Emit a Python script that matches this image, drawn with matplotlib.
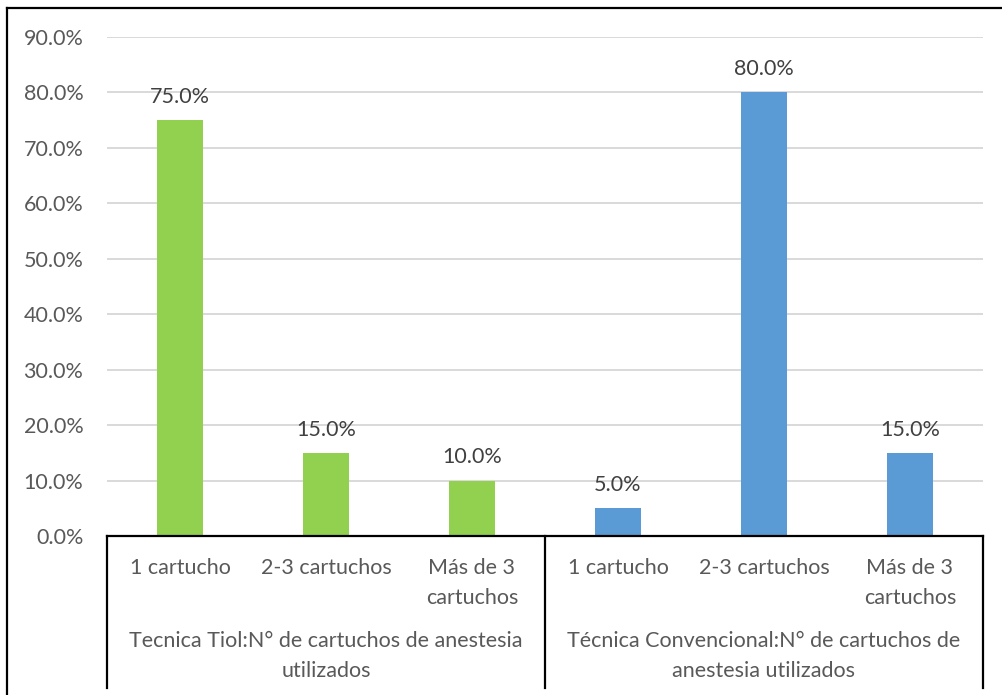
import matplotlib
matplotlib.use("Agg")
import matplotlib.pyplot as plt
from matplotlib.lines import Line2D
from matplotlib.transforms import blended_transform_factory
from matplotlib.ticker import FuncFormatter

plt.rcParams['font.family'] = ['Lato', 'DejaVu Sans']

# datos
categorias = ["1 cartucho", "2-3 cartuchos", "Más de 3\ncartuchos",
              "1 cartucho", "2-3 cartuchos", "Más de 3\ncartuchos"]
grupos = ["Tecnica Tiol:N° de cartuchos de anestesia\nutilizados",
          "Técnica Convencional:N° de cartuchos de\nanestesia utilizados"]
tiol = [75.0, 15.0, 10.0]
convencional = [5.0, 80.0, 15.0]

verde = "#92D050"
azul = "#5B9BD5"
gris = "#595959"
fs = 15.5

W, H = 1003, 695
fig = plt.figure(figsize=(W / 100, H / 100), dpi=100)
ax = fig.add_axes([107 / W, (H - 536) / H, (983 - 107) / W, (536 - 37) / H])

valores = tiol + convencional
colores = [verde] * len(tiol) + [azul] * len(convencional)
x = list(range(len(valores)))
barras = ax.bar(x, valores, width=0.315, color=colores, zorder=2)

for b, v in zip(barras, valores):
    ax.annotate(f"{v:.1f}%", (b.get_x() + b.get_width() / 2, v),
                xytext=(0, 9.5), textcoords="offset points",
                ha="center", va="bottom", fontsize=fs, color="#404040")

ax.set_xlim(-0.5, len(valores) - 0.5)
ax.set_ylim(0, 90)
ax.set_yticks(range(0, 91, 10))
ax.yaxis.set_major_formatter(FuncFormatter(lambda v, p: f"{v:.1f}%"))
ax.tick_params(axis="y", length=0, labelsize=fs, labelcolor=gris, pad=17)
ax.set_xticks([])
ax.grid(axis="y", color="#D9D9D9", lw=1.4, zorder=0)
for s in ["top", "right", "left"]:
    ax.spines[s].set_visible(False)
ax.spines["bottom"].set_color("black")
ax.spines["bottom"].set_linewidth(1.6)
ax.spines["bottom"].set_zorder(3)

# eje de categorías en dos niveles
tr = blended_transform_factory(ax.transData, fig.transFigure)
for xi, c in zip(x, categorias):
    ax.text(xi, (H - 558) / H, c, transform=tr, ha="center", va="top",
            fontsize=fs, color=gris, linespacing=1.6)
for gi, g in enumerate(grupos):
    ax.text(gi * 3 + 1, (H - 631) / H, g, transform=tr, ha="center", va="top",
            fontsize=fs, color=gris, linespacing=1.6)

for xs in [-0.5, 2.5, 5.5]:
    ax.add_artist(Line2D([xs, xs], [(H - 536) / H, (H - 688) / H], transform=tr,
                         color="black", lw=1.6, clip_on=False))

# marco del gráfico
fig.add_artist(Line2D([7 / W, 7 / W], [1 - 8 / H, 0], transform=fig.transFigure,
                      color="black", lw=1.6))
fig.add_artist(Line2D([7 / W, 1], [1 - 8 / H, 1 - 8 / H], transform=fig.transFigure,
                      color="black", lw=1.6))

fig.savefig("out.png", dpi=100)
